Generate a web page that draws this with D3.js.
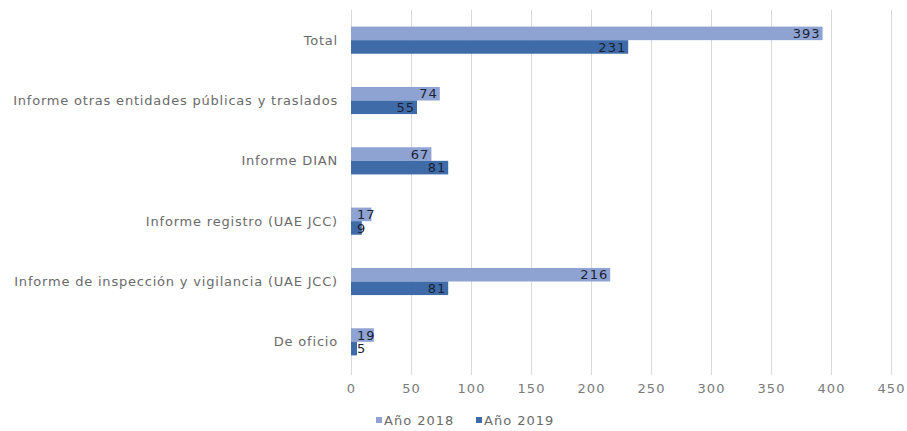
<!DOCTYPE html>
<html>
<head>
<meta charset="utf-8">
<script src="https://cdn.jsdelivr.net/npm/d3@7"></script>
<style>
  body { margin: 0; background: #fff; }
  svg { font-family: "DejaVu Sans", Verdana, sans-serif; }
  .cat { fill: #6a6a6a; font-size: 13px; letter-spacing: 0.8px; }
  .tick text { fill: #7a7a7a; font-size: 13px; font-family: "DejaVu Sans", sans-serif; letter-spacing: 1px; }
  .val { fill: #1b1f33; font-size: 13px; letter-spacing: 1px; }
  .leg { fill: #6a6a6a; font-size: 13px; letter-spacing: 1px; }
</style>
</head>
<body>
<svg width="907" height="431"></svg>
<script>
// categories top to bottom
var categories = ["Total", "Informe otras entidades públicas y traslados", "Informe DIAN",
  "Informe registro (UAE JCC)", "Informe de inspección y vigilancia (UAE JCC)", "De oficio"];
var values2018 = [393, 74, 67, 17, 216, 19];
var values2019 = [231, 55, 81, 9, 81, 5];
var seriesNames = ["Año 2018", "Año 2019"];
var seriesColors = ["#8fa3d2", "#3f6ca9"];
var xTicks = [0, 50, 100, 150, 200, 250, 300, 350, 400, 450];

var svg = d3.select("svg");

var x = d3.scaleLinear().domain([0, 450]).range([351, 891]);
var y = d3.scaleBand().domain(categories).range([10, 372]).paddingInner(0.55).paddingOuter(0.275);
var inner = d3.scaleBand().domain([0, 1]).range([0, y.bandwidth()]);

// gridlines
svg.append("g")
  .selectAll("line")
  .data(xTicks)
  .enter().append("line")
  .attr("x1", d => x(d) + 0.5).attr("x2", d => x(d) + 0.5)
  .attr("y1", 10).attr("y2", 375)
  .attr("stroke", "#d9d9d9").attr("stroke-width", 1);

// x axis labels
var xAxis = svg.append("g")
  .attr("transform", "translate(0,380)")
  .call(d3.axisBottom(x).tickValues(xTicks).tickSize(0).tickPadding(4));
xAxis.select(".domain").remove();

// category labels
svg.append("g")
  .selectAll("text")
  .data(categories)
  .enter().append("text")
  .attr("class", "cat")
  .attr("x", 338)
  .attr("y", d => y(d) + y.bandwidth() / 2)
  .attr("dy", "0.35em")
  .attr("text-anchor", "end")
  .text(d => d);

var series = [values2018, values2019];
series.forEach(function(vals, s) {
  var g = svg.append("g");
  g.selectAll("rect")
    .data(vals)
    .enter().append("rect")
    .attr("x", x(0))
    .attr("y", (d, i) => y(categories[i]) + inner(s))
    .attr("width", d => x(d) - x(0))
    .attr("height", inner.bandwidth())
    .attr("fill", seriesColors[s]);

  g.selectAll("text")
    .data(vals)
    .enter().append("text")
    .attr("class", "val")
    .attr("x", d => (x(d) - x(0) < 30) ? x(0) + 6 : x(d) - 2)
    .attr("text-anchor", d => (x(d) - x(0) < 30) ? "start" : "end")
    .attr("y", (d, i) => y(categories[i]) + inner(s) + inner.bandwidth() / 2)
    .attr("dy", "0.36em")
    .text(d => d);
});

// legend
var legX = [376, 476];
var leg = svg.append("g");
seriesNames.forEach(function(n, i) {
  leg.append("rect")
    .attr("x", legX[i]).attr("y", 417)
    .attr("width", 6).attr("height", 6)
    .attr("fill", seriesColors[i]);
  leg.append("text")
    .attr("class", "leg")
    .attr("x", legX[i] + 8).attr("y", 420)
    .attr("dy", "0.35em")
    .text(n);
});
</script>
</body>
</html>
